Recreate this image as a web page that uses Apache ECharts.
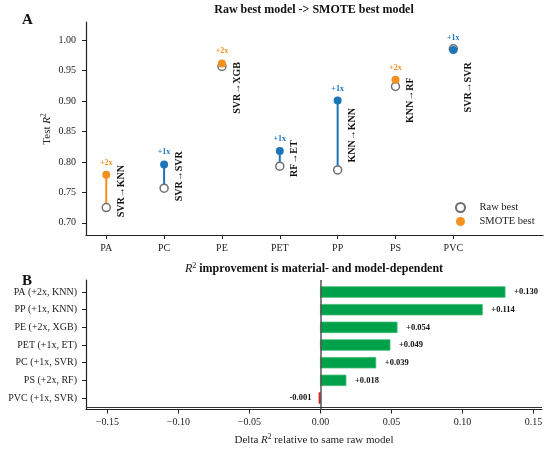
<!DOCTYPE html>
<html>
<head>
<meta charset="utf-8">
<script src="https://cdn.jsdelivr.net/npm/echarts@6/dist/echarts.min.js"></script>
<style>html,body{margin:0;padding:0;background:#fff;}#c{width:550px;height:450px;}</style>
</head>
<body>
<div id="c"></div>
<script>
// ---- data ----
const categories = ['PA', 'PC', 'PE', 'PET', 'PP', 'PS', 'PVC'];
const rawBest = [0.725, 0.757, 0.957, 0.793, 0.787, 0.924, 0.986];
const smoteBest = [0.779, 0.796, 0.962, 0.818, 0.901, 0.935, 0.984];
const factors = ['+2x', '+1x', '+2x', '+1x', '+1x', '+2x', '+1x'];
const modelChanges = ['SVR\u2192KNN', 'SVR\u2192SVR', 'SVR\u2192XGB', 'RF\u2192ET', 'KNN\u2192KNN', 'KNN\u2192RF', 'SVR\u2192SVR'];
const yTicksTop = [0.70, 0.75, 0.80, 0.85, 0.90, 0.95, 1.00];

const deltaLabels = ['PA (+2x, KNN)', 'PP (+1x, KNN)', 'PE (+2x, XGB)', 'PET (+1x, ET)', 'PC (+1x, SVR)', 'PS (+2x, RF)', 'PVC (+1x, SVR)'];
const deltaValues = [0.130, 0.114, 0.054, 0.049, 0.039, 0.018, -0.001];
const xTicksBottom = [-0.15, -0.10, -0.05, 0.00, 0.05, 0.10, 0.15];

// ---- layout / style (not data) ----
const labelNudge = [0, 0, 23, 0, 0, 17, 38]; // px shift of rotated model labels
const FONT = 'Liberation Serif';
const ORANGE = '#f5901f';
const BLUE = '#1b75bb';
const GREEN = '#00a14b';
const RED = '#d62728';
const factorColor = f => (f === '+2x' ? ORANGE : BLUE);

const chart = echarts.init(document.getElementById('c'), null, {renderer: 'canvas'});

const fmtMinus = v => (v < 0 ? '\u2212' : '') + Math.abs(v).toFixed(2);

const option = {
  animation: false,
  backgroundColor: '#fff',
  textStyle: {fontFamily: FONT},
  grid: [
    {left: 86, right: 7, top: 22, height: 213},
    {left: 86, right: 8, top: 280, height: 129.5}
  ],
  legend: {
    data: ['Raw best', 'SMOTE best'],
    orient: 'vertical',
    left: 450,
    top: 197,
    itemWidth: 28,
    itemHeight: 9,
    itemGap: 3,
    textStyle: {fontFamily: FONT, fontSize: 10.5, color: '#222'}
  },
  xAxis: [
    {
      type: 'value', gridIndex: 0, min: -0.35, max: 7.55,
      splitLine: {show: false},
      axisLine: {show: true, onZero: false, lineStyle: {color: '#222', width: 1.2}},
      axisTick: {show: true, length: 4, customValues: [0, 1, 2, 3, 4, 5, 6], lineStyle: {color: '#222'}},
      axisLabel: {customValues: [0, 1, 2, 3, 4, 5, 6], formatter: v => categories[Math.round(v)],
        fontFamily: FONT, fontSize: 10, color: '#222', margin: 8}
    },
    {
      type: 'value', gridIndex: 1, min: -0.165, max: 0.156,
      splitLine: {show: false},
      axisLine: {show: true, onZero: false, lineStyle: {color: '#222', width: 1.2}},
      axisTick: {show: true, length: 4, customValues: xTicksBottom, lineStyle: {color: '#222'}},
      axisLabel: {customValues: xTicksBottom, formatter: v => fmtMinus(v),
        fontFamily: FONT, fontSize: 10, color: '#222', margin: 8}
    }
  ],
  yAxis: [
    {
      type: 'value', gridIndex: 0, min: 0.68, max: 1.03,
      splitLine: {show: false},
      axisLine: {show: true, onZero: false, lineStyle: {color: '#222', width: 1.2}},
      axisTick: {show: true, length: 4, customValues: yTicksTop, lineStyle: {color: '#222'}},
      axisLabel: {customValues: yTicksTop, formatter: v => v.toFixed(2),
        fontFamily: FONT, fontSize: 10, color: '#222', margin: 10}
    },
    {
      type: 'value', gridIndex: 1, min: -0.68, max: 6.65, inverse: true,
      splitLine: {show: false},
      axisLine: {show: true, onZero: false, lineStyle: {color: '#222', width: 1.2}},
      axisTick: {show: true, length: 4, customValues: [0, 1, 2, 3, 4, 5, 6], lineStyle: {color: '#222'}},
      axisLabel: {customValues: [0, 1, 2, 3, 4, 5, 6], formatter: v => deltaLabels[Math.round(v)],
        fontFamily: FONT, fontSize: 10, color: '#222', margin: 9}
    }
  ],
  series: [
    // connecting stems
    {
      type: 'custom', xAxisIndex: 0, yAxisIndex: 0, z: 2, silent: true,
      data: categories.map((c, i) => [i, rawBest[i], smoteBest[i]]),
      encode: {x: 0, y: [1, 2]},
      renderItem: (params, api) => {
        const i = api.value(0);
        const p1 = api.coord([i, api.value(1)]);
        const p2 = api.coord([i, api.value(2)]);
        return {type: 'line', shape: {x1: p1[0], y1: p1[1], x2: p2[0], y2: p2[1]},
          style: {stroke: factorColor(factors[i]), lineWidth: 2}};
      }
    },
    {
      name: 'Raw best', type: 'scatter', xAxisIndex: 0, yAxisIndex: 0, z: 3,
      symbol: 'circle', symbolSize: 8,
      itemStyle: {color: '#fff', borderColor: '#6e6e6e', borderWidth: 1.5, opacity: 1},
      data: rawBest.map((v, i) => [i, v])
    },
    {
      name: 'SMOTE best', type: 'scatter', xAxisIndex: 0, yAxisIndex: 0, z: 4,
      symbol: 'circle', symbolSize: 8,
      itemStyle: {color: ORANGE, opacity: 1},
      data: smoteBest.map((v, i) => ({value: [i, v], itemStyle: {color: factorColor(factors[i])}}))
    },
    // annotations
    {
      type: 'custom', xAxisIndex: 0, yAxisIndex: 0, z: 5, silent: true,
      data: categories.map((c, i) => [i, rawBest[i], smoteBest[i]]),
      encode: {x: 0, y: [1, 2]},
      renderItem: (params, api) => {
        const i = api.value(0);
        const ps = api.coord([i, api.value(2)]);
        const pm = api.coord([i, (api.value(1) + api.value(2)) / 2]);
        return {
          type: 'group',
          children: [
            {type: 'text', x: ps[0], y: ps[1] - 12,
              style: {text: factors[i], fill: factorColor(factors[i]), font: 'bold 8px "' + FONT + '"',
                align: 'center', verticalAlign: 'middle'}},
            {type: 'text', x: pm[0] + 15, y: pm[1] + labelNudge[i], rotation: Math.PI / 2,
              style: {text: modelChanges[i], fill: '#111', font: 'bold 10px "' + FONT + '"',
                align: 'center', verticalAlign: 'middle'}}
          ]
        };
      }
    },
    // delta bars
    {
      type: 'custom', xAxisIndex: 1, yAxisIndex: 1, z: 2, silent: true,
      data: deltaValues.map((v, i) => [v, i]),
      encode: {x: 0, y: 1},
      renderItem: (params, api) => {
        const v = api.value(0), i = api.value(1);
        const p0 = api.coord([0, i]);
        const p1 = api.coord([v, i]);
        const h = api.size([0, 0.6])[1];
        const x = Math.min(p0[0], p1[0]);
        const w = Math.max(Math.abs(p1[0] - p0[0]), 1.5);
        const pos = v >= 0;
        const txt = (pos ? '+' : '-') + Math.abs(v).toFixed(3);
        return {
          type: 'group',
          children: [
            {type: 'rect', shape: {x: x, y: p1[1] - h / 2, width: w, height: h},
              style: {fill: pos ? GREEN : RED, stroke: pos ? '#3dbb74' : RED, lineWidth: 0.8}},
            {type: 'text', x: pos ? p1[0] + 9 : p0[0] - 9, y: p1[1],
              style: {text: txt, fill: '#111', font: 'bold 8.5px "' + FONT + '"',
                align: pos ? 'left' : 'right', verticalAlign: 'middle'}}
          ]
        };
      },
      markLine: {
        silent: true, symbol: 'none', label: {show: false},
        data: [
          {xAxis: 0, lineStyle: {color: '#555', width: 1.5, type: 'solid'}},
          {yAxis: 6.5, lineStyle: {color: '#333', width: 1, type: 'solid'}}
        ]
      }
    }
  ],
  graphic: [
    {type: 'text', left: 22, top: 13, style: {text: 'A', font: 'bold 15px "' + FONT + '"', fill: '#111'}},
    {type: 'text', left: 22, top: 274, style: {text: 'B', font: 'bold 15px "' + FONT + '"', fill: '#111'}},
    {type: 'text', x: 314, y: 10, style: {text: 'Raw best model -> SMOTE best model',
      font: 'bold 12px "' + FONT + '"', fill: '#111', align: 'center', verticalAlign: 'middle'}},
    {type: 'text', x: 47, y: 129, rotation: Math.PI / 2,
      style: {text: '{n|Test }{i|R}{s|2}', align: 'center', verticalAlign: 'middle',
        rich: {
          n: {fontFamily: FONT, fontSize: 11, fill: '#222'},
          i: {fontFamily: FONT, fontSize: 11, fontStyle: 'italic', fill: '#222'},
          s: {fontFamily: FONT, fontSize: 7.5, fill: '#222', verticalAlign: 'top', padding: [0, 0, 6, 0]}
        }}},
    {type: 'text', x: 314, y: 269,
      style: {text: '{i|R}{s|2}{b| improvement is material- and model-dependent}', align: 'center', verticalAlign: 'middle',
        rich: {
          i: {fontFamily: FONT, fontSize: 12, fontStyle: 'italic', fill: '#111'},
          s: {fontFamily: FONT, fontSize: 8, fill: '#111', verticalAlign: 'top', padding: [0, 0, 6, 0]},
          b: {fontFamily: FONT, fontSize: 12, fontWeight: 'bold', fill: '#111'}
        }}},
    {type: 'text', x: 314, y: 440,
      style: {text: '{n|Delta }{i|R}{s|2}{n| relative to same raw model}', align: 'center', verticalAlign: 'middle',
        rich: {
          n: {fontFamily: FONT, fontSize: 11, fill: '#222'},
          i: {fontFamily: FONT, fontSize: 11, fontStyle: 'italic', fill: '#222'},
          s: {fontFamily: FONT, fontSize: 7.5, fill: '#222', verticalAlign: 'top', padding: [0, 0, 6, 0]}
        }}}
  ]
};
chart.setOption(option);
</script>
</body>
</html>
